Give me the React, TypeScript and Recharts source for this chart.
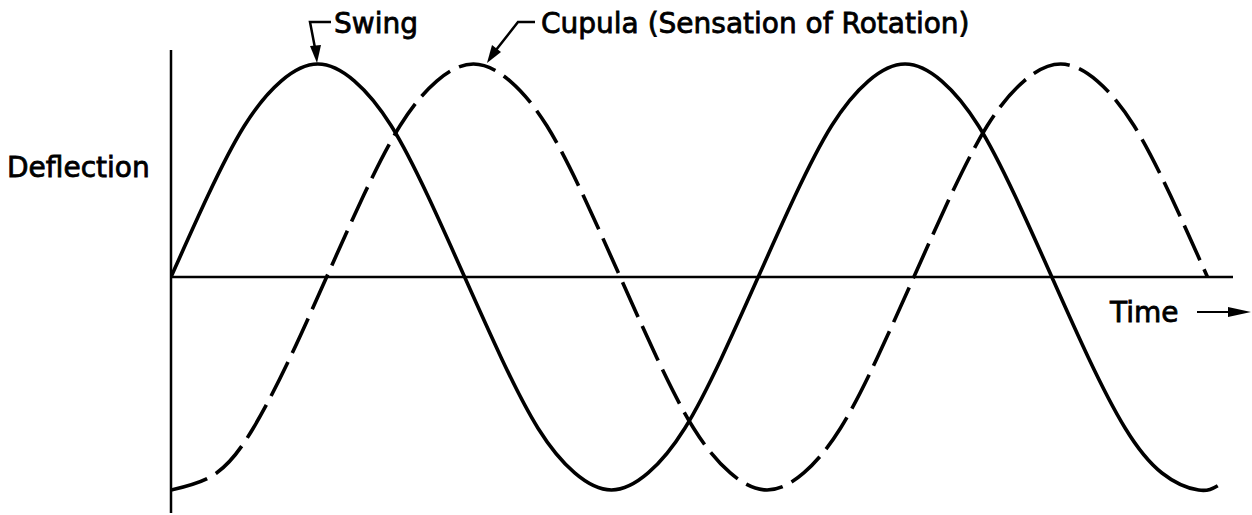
import React from 'react';
import { LineChart, Line, XAxis, YAxis, ReferenceLine } from 'recharts';

// time in quarter-periods
const swingTime = [0, 0.25, 0.5, 0.75, 1, 1.25, 1.5, 1.75, 2, 2.25, 2.5, 2.75, 3, 3.25, 3.5, 3.75, 4, 4.25, 4.5, 4.75, 5, 5.25, 5.5, 5.75, 6, 6.25, 6.5, 6.75, 7, 7.13];
const swingDeflection = [0, 0.38, 0.71, 0.92, 1, 0.92, 0.71, 0.38, 0, -0.38, -0.71, -0.92, -1, -0.92, -0.71, -0.38, 0, 0.38, 0.71, 0.92, 1, 0.92, 0.71, 0.38, 0, -0.38, -0.71, -0.92, -1, -0.98];

const cupulaTime = [0, 0.31, 0.56, 0.81, 1.06, 1.31, 1.56, 1.81, 2.06, 2.31, 2.56, 2.81, 3.06, 3.31, 3.56, 3.81, 4.06, 4.31, 4.56, 4.81, 5.06, 5.31, 5.56, 5.81, 6.06, 6.31, 6.56, 6.81, 7.06];
const cupulaDeflection = [-1, -0.92, -0.71, -0.38, 0, 0.38, 0.71, 0.92, 1, 0.92, 0.71, 0.38, 0, -0.38, -0.71, -0.92, -1, -0.92, -0.71, -0.38, 0, 0.38, 0.71, 0.92, 1, 0.92, 0.71, 0.38, 0];

const labels = {
  yAxis: 'Deflection',
  xAxis: 'Time',
  swing: 'Swing',
  cupula: 'Cupula (Sensation of Rotation)',
};

const swingData = swingTime.map((t, i) => ({ t, v: swingDeflection[i] }));
const cupulaData = cupulaTime.map((t, i) => ({ t, v: cupulaDeflection[i] }));

const FONT = '"DejaVu Sans", sans-serif';

export default function App() {
  return (
    <div style={{ position: 'absolute', left: 0, top: 0, width: 1252, height: 515, background: '#fff' }}>
      <LineChart
        width={1252}
        height={515}
        margin={{ top: 50, right: 19, bottom: 2, left: 171 }}
      >
        <XAxis dataKey="t" type="number" domain={[0, 7.234]} allowDataOverflow hide />
        <YAxis type="number" domain={[-1.108, 1.066]} allowDataOverflow hide />
        <ReferenceLine x={0} stroke="#000" strokeWidth={2.5} />
        <ReferenceLine y={0} stroke="#000" strokeWidth={2.5} />
        <Line
          data={swingData}
          dataKey="v"
          type="natural"
          stroke="#000"
          strokeWidth={3.6}
          dot={false}
          activeDot={false}
          isAnimationActive={false}
        />
        <Line
          data={cupulaData}
          dataKey="v"
          type="natural"
          stroke="#000"
          strokeWidth={3.6}
          strokeDasharray="38 10"
          dot={false}
          activeDot={false}
          isAnimationActive={false}
        />
      </LineChart>
      <svg
        width={1252}
        height={515}
        style={{ position: 'absolute', left: 0, top: 0, pointerEvents: 'none' }}
      >
        <g fontFamily={FONT} fontSize={28} fill="#000" stroke="#000" strokeWidth={0.8}>
          <text x={7} y={177}>{labels.yAxis}</text>
          <text x={1110} y={322}>{labels.xAxis}</text>
          <text x={334} y={33}>{labels.swing}</text>
          <text x={541} y={33}>{labels.cupula}</text>
        </g>
        {/* Swing leader */}
        <polyline points="331,22 310,22 315,48" fill="none" stroke="#000" strokeWidth={2.5} />
        <polygon points="317,63 310,46 321,45" fill="#000" />
        {/* Cupula leader */}
        <polyline points="535,22 518,22 496,50" fill="none" stroke="#000" strokeWidth={2.5} />
        <polygon points="487,63 492,45 501,52" fill="#000" />
        {/* Time arrow */}
        <line x1={1197} y1={312} x2={1232} y2={312} stroke="#000" strokeWidth={2} />
        <polygon points="1251,312 1228,307 1228,317" fill="#000" />
      </svg>
    </div>
  );
}
